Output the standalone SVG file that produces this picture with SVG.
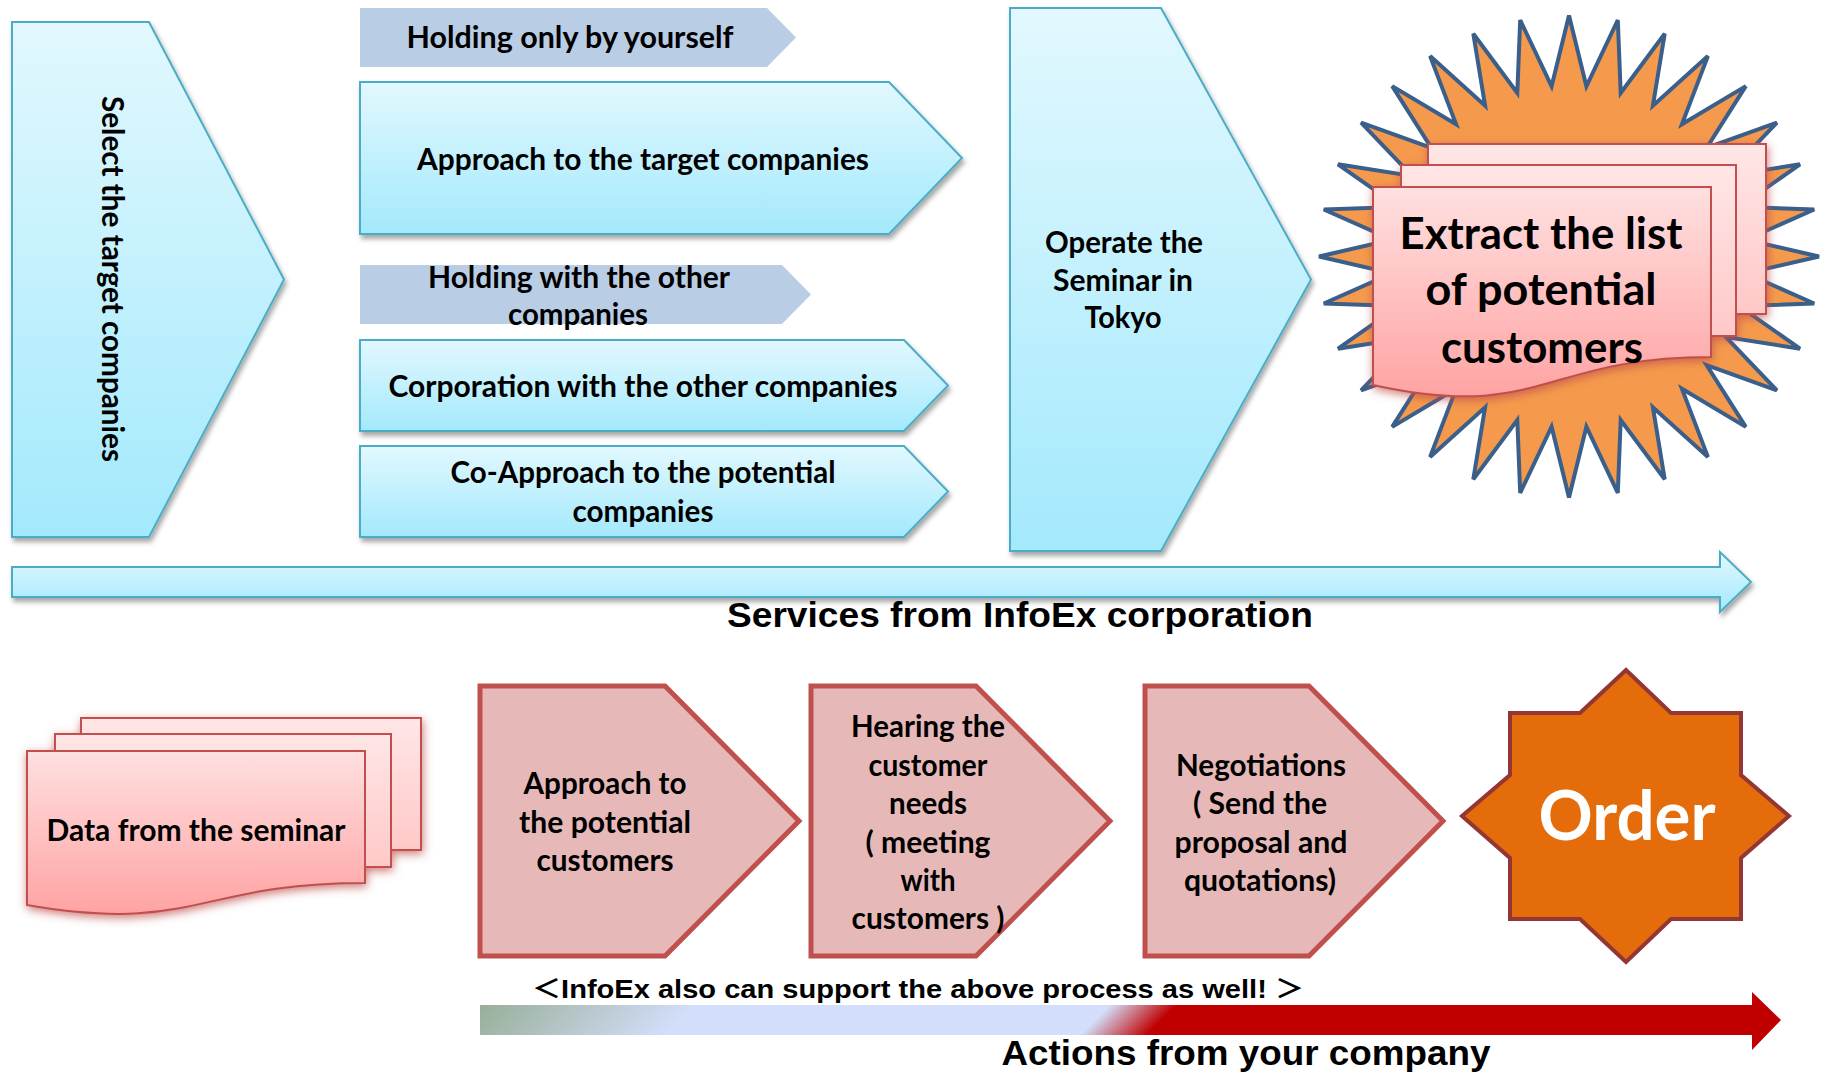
<svg xmlns="http://www.w3.org/2000/svg" width="1822" height="1076" viewBox="0 0 1822 1076">
<defs>
<linearGradient id="blue" x1="0" y1="0" x2="0" y2="1">
<stop offset="0" stop-color="#E2F8FE"/><stop offset="1" stop-color="#A3E9FC"/>
</linearGradient>
<linearGradient id="pink" x1="0" y1="0" x2="0" y2="1">
<stop offset="0" stop-color="#FFE0E0"/><stop offset="1" stop-color="#FFA3A3"/>
</linearGradient>
<linearGradient id="pinkLight" x1="0" y1="0" x2="0" y2="1">
<stop offset="0" stop-color="#FFE6E6"/><stop offset="1" stop-color="#FFC8C8"/>
</linearGradient>
<linearGradient id="actions" gradientUnits="userSpaceOnUse" x1="480" y1="1005" x2="1130" y2="1655">
<stop offset="0" stop-color="#98AE98"/><stop offset="0.165" stop-color="#D3DEFA"/><stop offset="0.485" stop-color="#D3DEFA"/><stop offset="0.536" stop-color="#C00000"/><stop offset="1" stop-color="#C00000"/>
</linearGradient>
<filter id="shadow" x="-10%" y="-10%" width="125%" height="130%">
<feGaussianBlur in="SourceAlpha" stdDeviation="2.5"/><feOffset dx="2" dy="4" result="o"/>
<feFlood flood-color="#000" flood-opacity="0.35"/><feComposite in2="o" operator="in"/>
<feMerge><feMergeNode/><feMergeNode in="SourceGraphic"/></feMerge>
</filter>
<filter id="glow" x="-20%" y="-20%" width="140%" height="145%">
<feGaussianBlur in="SourceAlpha" stdDeviation="5"/><feOffset dx="1" dy="3" result="o"/>
<feFlood flood-color="#C0504D" flood-opacity="0.75"/><feComposite in2="o" operator="in"/>
<feMerge><feMergeNode/><feMergeNode in="SourceGraphic"/></feMerge>
</filter>
<style>
.bl{fill:url(#blue);stroke:#4BACC6;stroke-width:2;filter:url(#shadow)}
.gr{fill:#B9CDE5}
.rd{fill:#E6B9B8;stroke:#C0504D;stroke-width:5}
.pg{stroke:#C0504D;stroke-width:2}
.t{font-family:Lato,"Open Sans",sans-serif;font-weight:bold;fill:#000;text-anchor:middle;font-size:30px}
.a{font-family:"Liberation Sans",Arial,"Noto Sans CJK JP",sans-serif;font-weight:bold;fill:#000;text-anchor:middle}
</style>
</defs>

<g id="select-target">
<path class="bl" d="M12,22 L149,22 L284,279.5 L149,537 L12,537 Z"/>
<text class="t" style="font-size:30px" transform="translate(102,279) rotate(90)" textLength="366" lengthAdjust="spacingAndGlyphs">Select the target companies</text>
</g>

<g id="holding-only">
<path class="gr" d="M360,8 L767,8 L796,37.5 L767,67 L360,67 Z"/>
<text class="t" x="570" y="48" textLength="327" lengthAdjust="spacingAndGlyphs">Holding only by  yourself</text>
</g>

<g id="approach-target">
<path class="bl" d="M360,82 L889,82 L962,158 L889,234 L360,234 Z"/>
<text class="t" x="643" y="170" textLength="452" lengthAdjust="spacingAndGlyphs">Approach to the target companies</text>
</g>

<g id="holding-other">
<path class="gr" d="M360,265 L782,265 L811,294.5 L782,324 L360,324 Z"/>
<text class="t" x="579" y="288" textLength="302" lengthAdjust="spacingAndGlyphs">Holding with the other</text>
<text class="t" x="578" y="325" textLength="140" lengthAdjust="spacingAndGlyphs">companies</text>
</g>

<g id="corporation">
<path class="bl" d="M360,340 L904,340 L948,385.5 L904,431 L360,431 Z"/>
<text class="t" x="643" y="397" textLength="509" lengthAdjust="spacingAndGlyphs">Corporation with the other companies</text>
</g>

<g id="co-approach">
<path class="bl" d="M360,446 L904,446 L948,491.5 L904,537 L360,537 Z"/>
<text class="t" x="643" y="483" textLength="385" lengthAdjust="spacingAndGlyphs">Co-Approach to the potential</text>
<text class="t" x="643" y="522" textLength="141" lengthAdjust="spacingAndGlyphs">companies</text>
</g>

<g id="operate-seminar">
<path class="bl" d="M1010,8 L1161,8 L1311,279.5 L1161,551 L1010,551 Z"/>
<text class="t" x="1124" y="253" textLength="158" lengthAdjust="spacingAndGlyphs">Operate the</text>
<text class="t" x="1123" y="291" textLength="140" lengthAdjust="spacingAndGlyphs">Seminar in</text>
<text class="t" x="1123" y="328" textLength="77" lengthAdjust="spacingAndGlyphs">Tokyo</text>
</g>

<g id="extract-list">
<path fill="#F59A4C" stroke="#3A5F8B" stroke-width="4" stroke-linejoin="miter" d="M1569,15.5 L1586.4,86.3 L1617.8,20.1 L1620.7,92.9 L1664.7,33.8 L1652.9,105.7 L1707.9,56.1 L1681.9,124.3 L1745.8,86.1 L1706.6,148 L1776.9,122.6 L1726,175.9 L1800,164.3 L1739.3,206.9 L1814.2,209.5 L1746.1,239.7 L1819,256.5 L1746.1,273.3 L1814.2,303.5 L1739.3,306.1 L1800,348.7 L1726,337.1 L1776.9,390.4 L1706.6,365 L1745.8,426.9 L1681.9,388.7 L1707.9,456.9 L1652.9,407.3 L1664.7,479.2 L1620.7,420.1 L1617.8,492.9 L1586.4,426.7 L1569,497.5 L1551.6,426.7 L1520.2,492.9 L1517.3,420.1 L1473.3,479.2 L1485.1,407.3 L1430.1,456.9 L1456.1,388.7 L1392.2,426.9 L1431.4,365 L1361.1,390.4 L1412,337.1 L1338,348.7 L1398.7,306.1 L1323.8,303.5 L1391.9,273.3 L1319,256.5 L1391.9,239.7 L1323.8,209.5 L1398.7,206.9 L1338,164.3 L1412,175.9 L1361.1,122.6 L1431.4,148 L1392.2,86.1 L1456.1,124.3 L1430.1,56.1 L1485.1,105.7 L1473.3,33.8 L1517.3,92.9 L1520.2,20.1 L1551.6,86.3 Z"/>
<g filter="url(#glow)">
<rect class="pg" x="1428" y="144" width="338" height="170" fill="url(#pinkLight)"/>
<rect class="pg" x="1401" y="165" width="335" height="171" fill="url(#pinkLight)"/>
<path class="pg" fill="url(#pink)" d="M1373,187 H1711 V357 C1542,357 1542,422 1373,385 Z"/>
</g>
<text class="t" style="font-size:44px" x="1541" y="249" textLength="283" lengthAdjust="spacingAndGlyphs">Extract the list</text>
<text class="t" style="font-size:44px" x="1541" y="305" textLength="231" lengthAdjust="spacingAndGlyphs">of potential</text>
<text class="t" style="font-size:44px" x="1542" y="363" textLength="202" lengthAdjust="spacingAndGlyphs">customers</text>
</g>

<g id="data-seminar">
<g filter="url(#glow)">
<rect class="pg" x="81" y="718" width="340" height="132" fill="url(#pinkLight)"/>
<rect class="pg" x="55" y="734" width="336" height="133" fill="url(#pinkLight)"/>
<path class="pg" fill="url(#pink)" d="M27,751 H365 V883 C196,883 196,934 27,905 Z"/>
</g>
<text class="t" x="196" y="841" textLength="299" lengthAdjust="spacingAndGlyphs">Data from the seminar</text>
</g>

<g id="approach-potential">
<path class="rd" d="M480,686 L665,686 L799,821 L665,956 L480,956 Z"/>
<text class="t" x="605" y="794" textLength="163" lengthAdjust="spacingAndGlyphs">Approach to</text>
<text class="t" x="605" y="833" textLength="172" lengthAdjust="spacingAndGlyphs">the potential</text>
<text class="t" x="605" y="871" textLength="137" lengthAdjust="spacingAndGlyphs">customers</text>
</g>

<g id="hearing">
<path class="rd" d="M811,686 L976,686 L1110,821 L976,956 L811,956 Z"/>
<text class="t" x="928" y="737" textLength="154" lengthAdjust="spacingAndGlyphs">Hearing the</text>
<text class="t" x="928" y="776" textLength="119" lengthAdjust="spacingAndGlyphs">customer</text>
<text class="t" x="928" y="814" textLength="78" lengthAdjust="spacingAndGlyphs">needs</text>
<text class="t" x="928" y="853" textLength="125" lengthAdjust="spacingAndGlyphs">( meeting</text>
<text class="t" x="928" y="891" textLength="55" lengthAdjust="spacingAndGlyphs">with</text>
<text class="t" x="928" y="929" textLength="153" lengthAdjust="spacingAndGlyphs">customers )</text>
</g>

<g id="negotiations">
<path class="rd" d="M1145,686 L1309,686 L1443,821 L1309,956 L1145,956 Z"/>
<text class="t" x="1261" y="776" textLength="170" lengthAdjust="spacingAndGlyphs">Negotiations</text>
<text class="t" x="1260" y="814" textLength="134" lengthAdjust="spacingAndGlyphs">( Send the</text>
<text class="t" x="1261" y="853" textLength="173" lengthAdjust="spacingAndGlyphs">proposal and</text>
<text class="t" x="1260" y="891" textLength="152" lengthAdjust="spacingAndGlyphs">quotations)</text>
</g>

<g id="order">
<path fill="#E46C0A" stroke="#943634" stroke-width="4" d="M1626,670 L1671,713 L1741,713 L1741,775 L1789,816 L1741,858 L1741,919 L1671,919 L1626,962 L1580,919 L1510,919 L1510,858 L1462,816 L1510,775 L1510,713 L1580,713 Z"/>
<text class="t" style="font-size:68px;fill:#fff" x="1627" y="840" textLength="177" lengthAdjust="spacingAndGlyphs">Order</text>
</g>

<g id="connectors">
<path fill="url(#blue)" stroke="#4BACC6" stroke-width="2" filter="url(#shadow)" d="M12,567 L1720,567 L1720,552 L1751,582 L1720,612 L1720,597 L12,597 Z"/>
<path fill="url(#actions)" d="M480,1005 L1752,1005 L1752,992 L1781,1020 L1752,1050 L1752,1035 L480,1035 Z"/>
</g>

<g id="labels">
<text class="a" style="font-size:35px" x="1020" y="627" textLength="586" lengthAdjust="spacingAndGlyphs">Services from InfoEx corporation</text>
<text class="a" style="font-size:26px" x="918" y="998" textLength="772" lengthAdjust="spacingAndGlyphs">＜InfoEx also can support the above process as well! ＞</text>
<text class="a" style="font-size:35px" x="1246" y="1065" textLength="489" lengthAdjust="spacingAndGlyphs">Actions from your company</text>
</g>
</svg>
